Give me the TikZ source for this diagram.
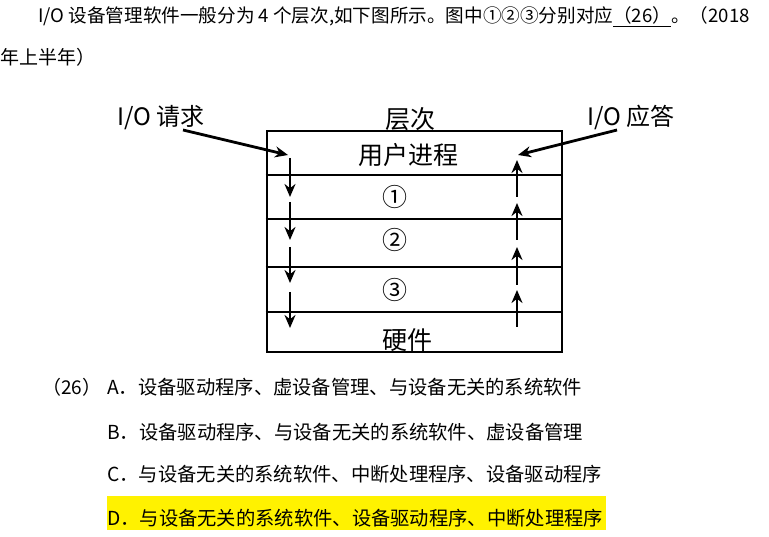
\documentclass[tikz,border=0pt]{standalone}
\usepackage{fontspec}
\setmainfont{Noto Sans CJK SC}
\usetikzlibrary{arrows.meta,positioning}

\begin{document}
\begin{tikzpicture}[x=1pt,y=-1pt,>={Stealth[length=13pt,width=11pt]}]
\tikzstyle{qtxt}=[inner sep=0,anchor=base west,font=\fontsize{19}{23}\selectfont]
\tikzstyle{lyr}=[inner sep=0,font=\fontsize{25}{30}\selectfont]
\tikzstyle{iolbl}=[inner sep=0,font=\fontsize{24}{28}\selectfont]
\tikzstyle{arr}=[->,line width=2.8pt]
\useasboundingbox (0,0) rectangle (769,537);
% question text
\node[qtxt,font=\fontsize{18.6}{23}\selectfont] (q1) at (38,23) {I/O 设备管理软件一般分为 4 个层次,如下图所示。图中①②③分别对应\underline{（26）}。（2018};
\node[qtxt] (q2) at (0,65) {年上半年）};
% layers
\node[draw,line width=2.8pt,minimum width=295pt,minimum height=221pt,inner sep=0] (box) at (414.5,241.5) {};
\foreach \y in {175,219,267,312} \draw[line width=2.2pt] (box.west |- 0,\y) -- (box.east |- 0,\y);
\node[lyr] (lay) at (410,119) {层次};
\node[lyr] (usr) at (408,155) {用户进程};
\node[lyr] (c1) at (395,197) {①}; \node[lyr] (c2) at (395,240) {②}; \node[lyr] (c3) at (395,290) {③};
\node[lyr] (hw) at (407,340) {硬件};
% request / answer
\node[iolbl] (req) at (161,118) {I/O 请求}; \node[iolbl] (ans) at (631,117) {I/O 应答};
\coordinate (reqs) at (183,130); \coordinate (reqe) at (288,155);
\coordinate (anss) at (617,130); \coordinate (anse) at (518,155);
\draw[arr] (reqs) -- (reqe); \draw[arr] (anss) -- (anse);
\foreach \i/\a/\b in {1/158/197,2/202/240,3/247/283,4/292/328} {
  \coordinate (dn\i) at (290,\a); \coordinate (dt\i) at (290,\b);
  \draw[arr] (dn\i) -- (dt\i);
}
\foreach \i/\a/\b in {1/197/160,2/240/203,3/285/247,4/327/290} {
  \coordinate (un\i) at (517,\a); \coordinate (ut\i) at (517,\b);
  \draw[arr] (un\i) -- (ut\i);
}
% choices
\fill[yellow] (107,496) rectangle (606,530);
\node[qtxt] (n26) at (42,395) {（26）};
\node[qtxt,font=\fontsize{19.3}{23}\selectfont] (oa) at (107,395) {A．设备驱动程序、虚设备管理、与设备无关的系统软件};
\node[qtxt,font=\fontsize{19.3}{23}\selectfont] (ob) at (107,439) {B．设备驱动程序、与设备无关的系统软件、虚设备管理};
\node[qtxt,font=\fontsize{19.3}{23}\selectfont] (oc) at (107,482) {C．与设备无关的系统软件、中断处理程序、设备驱动程序};
\node[qtxt,font=\fontsize{19.3}{23}\selectfont] (od) at (107,525) {D．与设备无关的系统软件、设备驱动程序、中断处理程序};
\end{tikzpicture}
\end{document}
